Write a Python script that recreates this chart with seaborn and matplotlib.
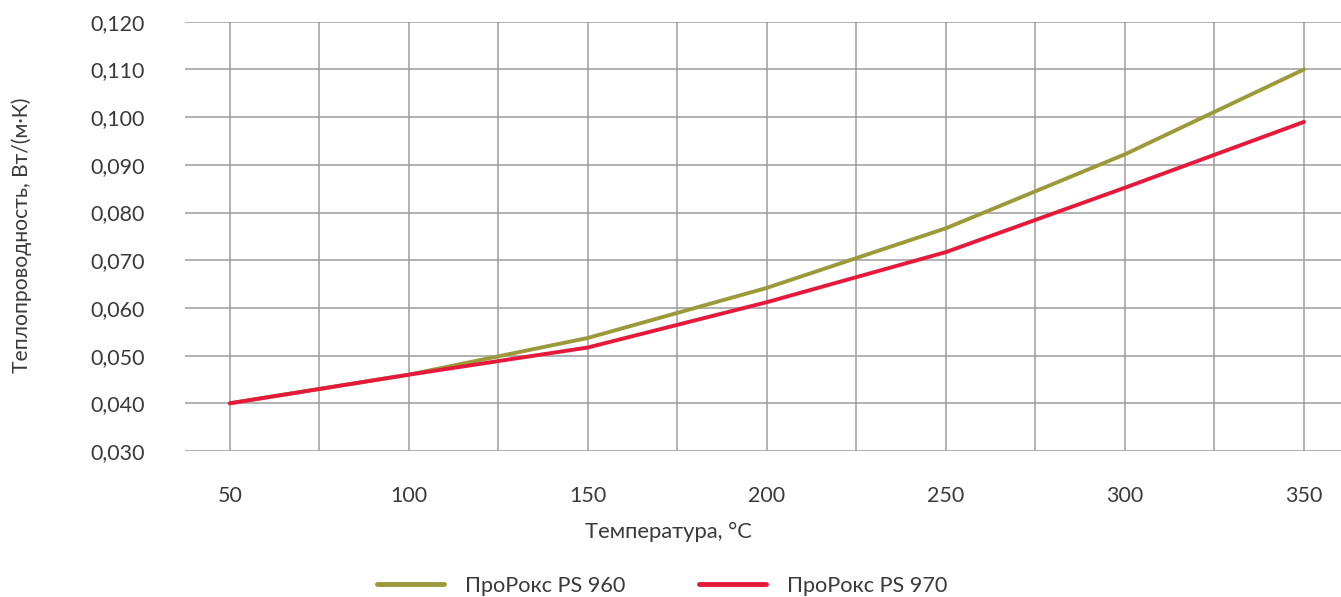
import pandas as pd
import matplotlib
matplotlib.use('Agg')
import matplotlib.pyplot as plt
import seaborn as sns
from matplotlib.ticker import MultipleLocator, FuncFormatter

# Data
temps = [50, 100, 150, 200, 250, 300, 350]
ps960 = [0.040, 0.046, 0.0537, 0.0642, 0.0767, 0.0922, 0.110]
ps970 = [0.040, 0.046, 0.0517, 0.0612, 0.0717, 0.0852, 0.099]
series_names = ['ПроРокс PS 960', 'ПроРокс PS 970']
series_colors = ['#9b9a3b', '#e6193b']

df = pd.concat([
    pd.DataFrame({'temp': temps, 'k': ps960, 'product': series_names[0]}),
    pd.DataFrame({'temp': temps, 'k': ps970, 'product': series_names[1]}),
])

sns.set_style('white')
plt.rcParams['font.family'] = ['Lato', 'DejaVu Sans']
text_color = '#3a3a3a'

W, H = 1341, 597
fig = plt.figure(figsize=(W / 100, H / 100), dpi=100)
ax = fig.add_axes([185 / W, 1 - 451 / H, 1 - 185 / W, (451 - 21.7) / H])

sns.lineplot(data=df, x='temp', y='k', hue='product', palette=series_colors,
             linewidth=2.8, ax=ax, legend=False, zorder=3)

ax.set_xlim(37.5, 50 + (W - 230) / 3.58)
ax.set_ylim(0.030, 0.120)
ax.xaxis.set_major_locator(MultipleLocator(50))
ax.xaxis.set_minor_locator(MultipleLocator(25))
ax.yaxis.set_major_locator(MultipleLocator(0.010))
ax.yaxis.set_major_formatter(FuncFormatter(lambda v, _: f'{v:.3f}'.replace('.', ',')))

ax.grid(True, which='both', axis='x', color='#9c9c9c', linewidth=1.1)
ax.grid(True, which='major', axis='y', color='#9c9c9c', linewidth=1.1)
ax.set_axisbelow(True)
for s in ax.spines.values():
    s.set_visible(False)

ax.tick_params(axis='both', which='both', length=0, labelsize=15.5, labelcolor=text_color)
ax.tick_params(axis='x', pad=25)
ax.tick_params(axis='y', pad=29)
ax.set_xlabel('')
ax.set_ylabel('')

fig.text(668 / W, 1 - 532 / H, 'Температура, °C', ha='center', va='center',
         fontsize=15.8, color=text_color)
fig.text(22 / W, 1 - 235 / H, 'Теплопроводность, Вт/(м·К)', ha='center', va='center',
         rotation=90, fontsize=15.2, color=text_color)

handles = [plt.Line2D([], [], color=c, linewidth=3.5) for c in series_colors]
fig.legend(handles, series_names, loc='center', bbox_to_anchor=(662 / W, 1 - 586 / H),
           ncol=2, frameon=False, fontsize=15.6, labelcolor=text_color,
           handlelength=3.1, handletextpad=0.95, columnspacing=3.4)

fig.savefig('out.png', dpi=100)
